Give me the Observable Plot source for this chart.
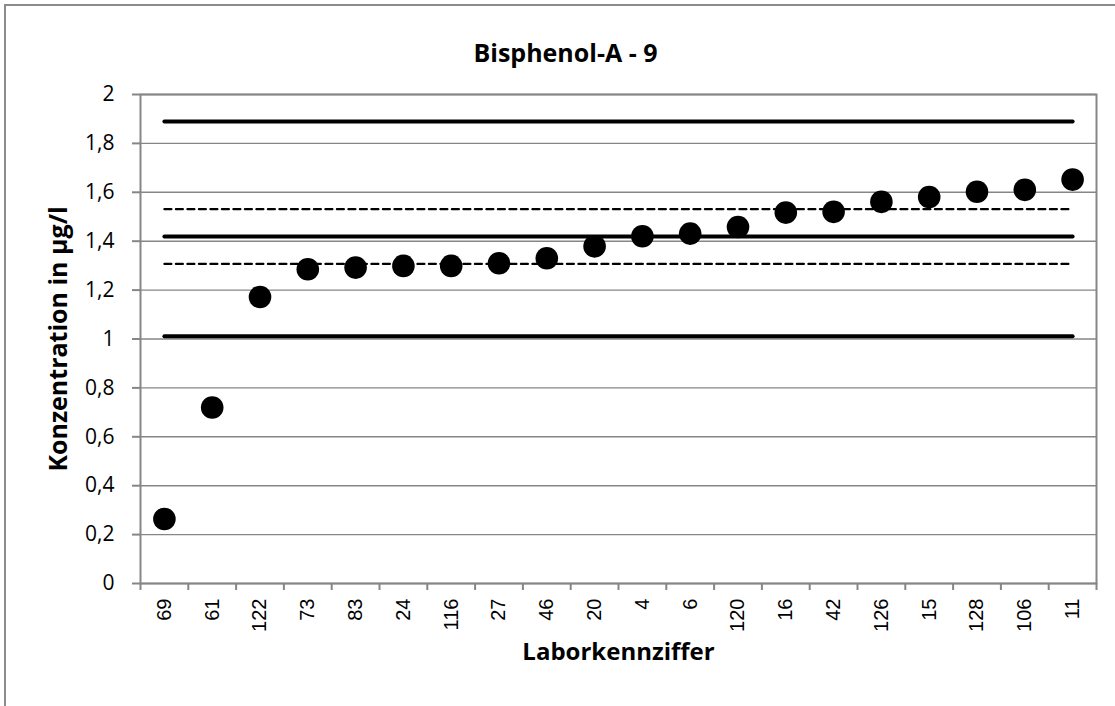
<!DOCTYPE html>
<html>
<head>
<meta charset="utf-8">
<script src="https://cdn.jsdelivr.net/npm/d3@7"></script>
<script src="https://cdn.jsdelivr.net/npm/@observablehq/plot@0.6"></script>
<style>
  html, body { margin: 0; padding: 0; background: #fff; overflow: hidden; }
  #wrap { position: relative; width: 1115px; height: 706px; }
  #border { position: absolute; left: 4px; top: 4px; width: 2000px; height: 2000px;
            border-left: 2px solid #8c8c8c; border-top: 2px solid #8c8c8c; pointer-events: none; }
  #chart { position: absolute; left: 0; top: 0; }
  #chart g[aria-label="y-axis tick label"] { font-family: "Open Sans", sans-serif !important; font-size: 21px !important; }
  #chart g[aria-label="x-axis tick label"] { font-family: "Liberation Sans", Arial, sans-serif !important; font-size: 20px !important; }
</style>
</head>
<body>
<div id="wrap"><div id="border"></div><div id="chart"></div></div>
<script>
// Data
const titleText = "Bisphenol-A - 9";
const xLabel = "Laborkennziffer";
const yLabel = "Konzentration in µg/l";
const labs = ["69","61","122","73","83","24","116","27","46","20","4","6","120","16","42","126","15","128","106","11"];
const values = [0.264,0.72,1.172,1.285,1.292,1.299,1.299,1.31,1.33,1.379,1.42,1.431,1.458,1.517,1.52,1.561,1.581,1.602,1.61,1.652];
const upperLimit = 1.89;
const assignedValue = 1.419;
const lowerLimit = 1.011;
const upperTolerance = 1.531;
const lowerTolerance = 1.307;
const yTicks = [0,0.2,0.4,0.6,0.8,1,1.2,1.4,1.6,1.8,2];
const yTickLabels = ["0","0,2","0,4","0,6","0,8","1","1,2","1,4","1,6","1,8","2"];

const grey = "#868686";
const xPos = (d, i) => i + 0.5;
const boundaries = d3.range(0, labs.length + 1);
const centers = labs.map((d, i) => i + 0.5);

const solid = {stroke: "black", strokeWidth: 4, strokeLinecap: "round"};
const dashed = {stroke: "black", strokeWidth: 2.2, strokeDasharray: "7,4.5"};

const chart = Plot.plot({
  width: 1115,
  height: 706,
  marginLeft: 140,
  marginRight: 19,
  marginTop: 94,
  marginBottom: 123,
  style: {background: "transparent", color: "black", overflow: "visible"},
  x: {type: "linear", domain: [0, labs.length], label: null},
  y: {domain: [0, 2], label: null},
  marks: [
    Plot.gridY(yTicks, {stroke: grey, strokeOpacity: 1, strokeWidth: 1.4}),
    Plot.frame({stroke: grey, strokeWidth: 2}),
    Plot.axisY(yTicks, {
      tickSize: 8, tickPadding: 18, stroke: grey, strokeWidth: 2,
      tickFormat: d => yTickLabels[yTicks.indexOf(d)],
      fontFamily: "Open Sans", fontSize: 21, fill: "black", label: null
    }),
    Plot.axisX(boundaries, {tickSize: 7, stroke: grey, strokeWidth: 2, tickFormat: () => "", label: null}),
    Plot.axisX(centers, {
      tickSize: 0, tickPadding: 15, tickRotate: -90,
      tickFormat: d => labs[Math.floor(d)],
      fontFamily: "Liberation Sans", fontSize: 20, fill: "black", label: null
    }),
    Plot.line(labs, {x: xPos, y: () => upperLimit, ...solid}),
    Plot.line(labs, {x: xPos, y: () => assignedValue, ...solid}),
    Plot.line(labs, {x: xPos, y: () => lowerLimit, ...solid}),
    Plot.line(labs, {x: xPos, y: () => upperTolerance, ...dashed}),
    Plot.line(labs, {x: xPos, y: () => lowerTolerance, ...dashed}),
    Plot.dot(labs, {x: xPos, y: (d, i) => values[i], r: 11.3, fill: "black", stroke: "none"}),
    Plot.text([titleText], {frameAnchor: "top", dx: -53, dy: -50, fontFamily: "Open Sans", fontWeight: "bold", fontSize: 25, fill: "black"}),
    Plot.text([yLabel], {frameAnchor: "left", textAnchor: "middle", dx: -82, rotate: -90, fontFamily: "Open Sans", fontWeight: "bold", fontSize: 25, fill: "black"}),
    Plot.text([xLabel], {frameAnchor: "bottom", dy: 76, fontFamily: "Open Sans", fontWeight: "bold", fontSize: 24, fill: "black"})
  ]
});
document.getElementById("chart").appendChild(chart);
</script>
</body>
</html>
